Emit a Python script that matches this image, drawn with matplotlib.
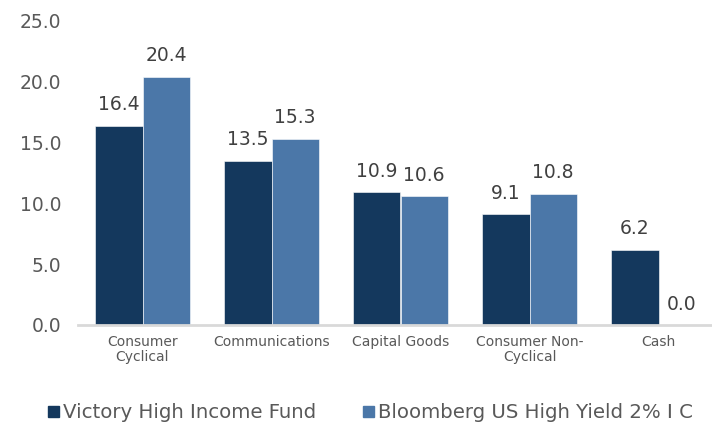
import matplotlib
matplotlib.use("Agg")
import matplotlib.pyplot as plt
import numpy as np
from matplotlib.patches import Patch

categories = ["Consumer\nCyclical", "Communications", "Capital Goods", "Consumer Non-\nCyclical", "Cash"]
fund = [16.4, 13.5, 10.9, 9.1, 6.2]
bench = [20.4, 15.3, 10.6, 10.8, 0.0]
series_names = ["Victory High Income Fund", "Bloomberg US High Yield 2% I C"]
yticks = [0, 5, 10, 15, 20, 25]

dark = "#14385D"
light = "#4B77A8"
tick_color = "#595959"
label_color = "#404040"

plt.rcParams['font.family'] = ['DejaVu Sans']

fig = plt.figure(figsize=(7.12, 4.26), dpi=100)
ax = fig.add_axes([78/712, 101/426, 645/712, 304/426])

x = np.arange(len(categories))
w = 0.365
b1 = ax.bar(x - w/2, fund, w, color=dark, edgecolor="white", linewidth=0.4)
b2 = ax.bar(x + w/2, bench, w, color=light, edgecolor="white", linewidth=0.4)

for bars in (b1, b2):
    for r in bars:
        h = r.get_height()
        ax.annotate(f"{h:.1f}", (r.get_x() + r.get_width()/2, h),
                    xytext=(0, 21), textcoords="offset pixels",
                    ha="center", va="center", fontsize=13.5, color=label_color)

ax.set_xlim(-0.5, 4.5)
ax.set_ylim(0, 25)
ax.set_yticks(yticks)
ax.set_yticklabels([f"{v:.1f}" for v in yticks], fontsize=13.5, color=tick_color)
ax.set_xticks(x)
ax.set_xticklabels(categories, fontsize=10, color=tick_color, linespacing=1.15)
ax.tick_params(axis="y", length=0, pad=12)
ax.tick_params(axis="x", length=0, pad=7)
for s in ["top", "right", "left"]:
    ax.spines[s].set_visible(False)
ax.spines["bottom"].set_color("#D9D9D9")
ax.spines["bottom"].set_linewidth(2)

handles = [Patch(color=dark), Patch(color=light)]
fig.legend(handles, series_names, loc="center left", bbox_to_anchor=(48/712, 1 - 413/426),
           ncol=2, frameon=False, fontsize=14.2, handlelength=0.55, handleheight=0.55,
           handletextpad=0.2, columnspacing=2.4, labelcolor=tick_color, borderaxespad=0, borderpad=0)

fig.savefig("out.png", dpi=100)
